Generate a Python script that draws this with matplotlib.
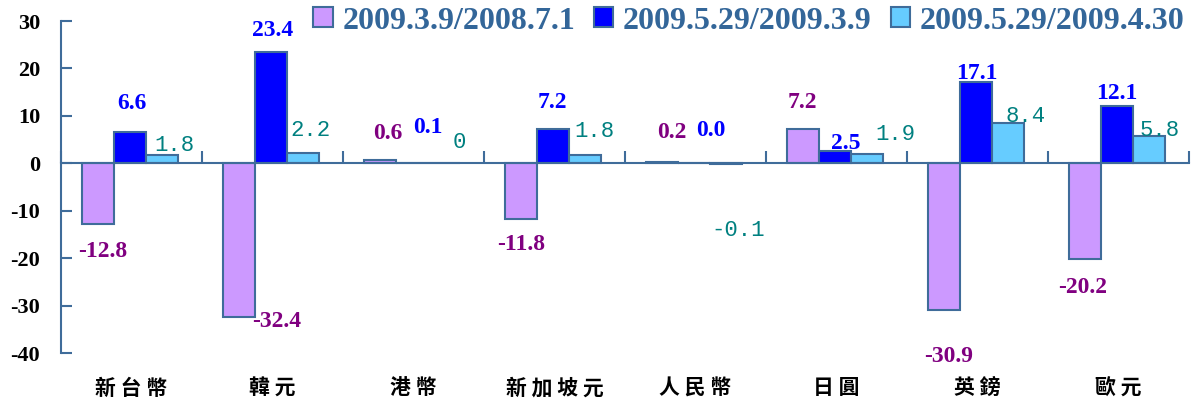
import numpy as np
import matplotlib
matplotlib.use("Agg")
import matplotlib.pyplot as plt
import matplotlib.transforms as mtransforms

plt.rcParams["axes.unicode_minus"] = False

# Data
categories = ["新台幣", "韓元", "港幣", "新加坡元", "人民幣", "日圓", "英鎊", "歐元"]
series_names = ["2009.3.9/2008.7.1", "2009.5.29/2009.3.9", "2009.5.29/2009.4.30"]
s1 = [-12.8, -32.4, 0.6, -11.8, 0.2, 7.2, -30.9, -20.2]
s2 = [6.6, 23.4, 0.1, 7.2, 0.0, 2.5, 17.1, 12.1]
s3 = [1.8, 2.2, 0.0, 1.8, -0.1, 1.9, 8.4, 5.8]
s1_text = ["-12.8", "-32.4", "0.6", "-11.8", "0.2", "7.2", "-30.9", "-20.2"]
s2_text = ["6.6", "23.4", "0.1", "7.2", "0.0", "2.5", "17.1", "12.1"]
s3_text = ["1.8", "2.2", "0", "1.8", "-0.1", "1.9", "8.4", "5.8"]

# Style
EDGE = "#3F6C9A"
FILLS = ["#CC99FF", "#0000FF", "#66CCFF"]
LABEL_COLORS = ["#800080", "#0000FF", "#008080"]
# label offsets in pixels from bar end (dx, dy)
OFF1 = [(5, -28), (38, -5), (8, 27), (0, -25), (10, 30), (0, 27), (5, -47), (-2, -28)]
OFF2 = [(2, 28), (2, 22), (16, 35), (0, 27), (17, 33), (11, 8), (1, 9), (0, 12)]
OFF3 = [(13, 9), (8, 22), (15, 21), (10, 23), (12, -67), (29, 20), (18, 7), (11, 5)]

W, H = 1195, 403
fig = plt.figure(figsize=(W / 100, H / 100), dpi=100)
ax = fig.add_axes([61 / W, 1 - 353 / H, (1189 - 61) / W, (353 - 21) / H])

x = np.arange(len(categories))
bw = 0.227
shift = -0.012
all_series = [s1, s2, s3]
all_text = [s1_text, s2_text, s3_text]
all_off = [OFF1, OFF2, OFF3]

for i, (vals, fill) in enumerate(zip(all_series, FILLS)):
    xs = x + (i - 1) * bw + shift
    ax.bar(xs, vals, width=bw, color=fill, edgecolor=EDGE, linewidth=1.5,
           label=series_names[i], zorder=2)
    for xi, v, t, (dx, dy) in zip(xs, vals, all_text[i], all_off[i]):
        if i == 2:
            font = dict(family="Liberation Mono", fontsize=16, fontweight="normal")
        else:
            font = dict(family="Liberation Serif", fontsize=17, fontweight="bold")
        ax.annotate(t, xy=(xi, v), xytext=(dx, dy), textcoords="offset pixels",
                    ha="center", va="center", color=LABEL_COLORS[i], **font)

ax.set_xlim(-0.5, len(categories) - 0.5)
ax.set_ylim(-40, 30)
ax.set_yticks(np.arange(-40, 31, 10))
ax.tick_params(axis="y", direction="in", length=8, width=1.5, color=EDGE, pad=15,
               labelsize=16)
for lab in ax.get_yticklabels():
    lab.set_fontfamily("Liberation Serif")
    lab.set_fontweight("bold")

# x axis at zero, ticks at category boundaries
ax.spines["bottom"].set_position(("data", 0))
ax.spines["bottom"].set_color(EDGE)
ax.spines["bottom"].set_linewidth(1.5)
ax.spines["left"].set_color(EDGE)
ax.spines["left"].set_linewidth(1.5)
ax.spines["top"].set_visible(False)
ax.spines["right"].set_visible(False)
ax.set_xticks(np.arange(-0.5, len(categories), 1.0))
ax.set_xticklabels([])
ax.tick_params(axis="x", direction="in", length=9, width=1.5, color=EDGE)

# category labels at bottom
trans = mtransforms.blended_transform_factory(ax.transData, fig.transFigure)
for xi, name in zip(x, categories):
    ax.text(xi, 1 - 388 / H, " ".join(name), transform=trans, ha="center", va="center",
            fontsize=15, fontweight="bold", family="Noto Sans CJK TC", color="black")

leg = fig.legend(loc="upper right", bbox_to_anchor=(1213 / W, 1.055), ncol=3,
                 frameon=False, handlelength=0.6, handleheight=0.6, handletextpad=0.3,
                 columnspacing=0.6,
                 prop=dict(family="Liberation Serif", weight="bold", size=23))
for t in leg.get_texts():
    t.set_color("#336699")

fig.savefig("out.png", dpi=100)
